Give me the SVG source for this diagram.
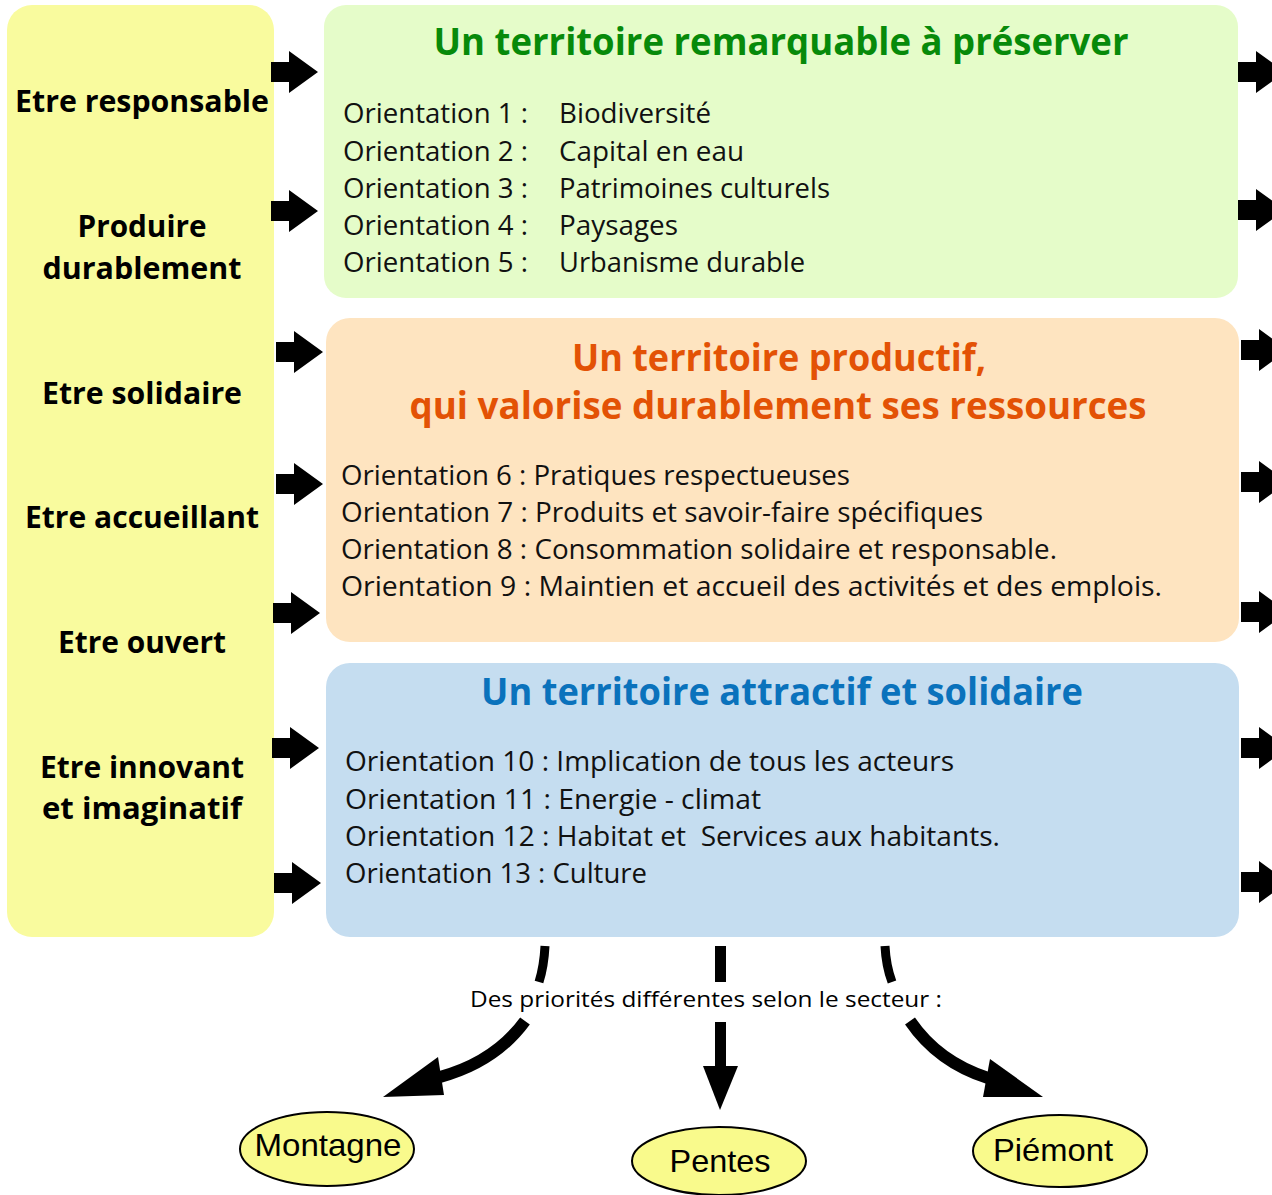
<svg xmlns="http://www.w3.org/2000/svg" width="1272" height="1195" viewBox="0 0 1272 1195">
<defs>
<style>
.bold{font-family:"Open Sans","DejaVu Sans",sans-serif;font-weight:bold;}
.side{font-size:30px;fill:#000;text-anchor:middle;}
.title{font-size:37px;text-anchor:middle;}
.ori{font-family:"Open Sans","DejaVu Sans",sans-serif;font-size:27px;fill:#111;}
.lbl{font-family:"Liberation Sans",Arial,sans-serif;font-size:32px;fill:#000;text-anchor:middle;}
.arr{fill:#000;}
.ell{fill:#F9FA8C;stroke:#000;stroke-width:2;}
.cur{fill:none;stroke:#000;}
</style>
<path id="ar" d="M0,-10 H18 V-21 L47,0 L18,21 V10 H0 Z"/>
</defs>
<rect width="1272" height="1195" fill="#fff"/>

<g id="valeurs">
<rect x="7" y="5" width="267" height="932" rx="25" fill="#F9FB9E"/>
<text class="bold side" x="142" y="112" textLength="254" lengthAdjust="spacingAndGlyphs">Etre responsable</text>
<text class="bold side" x="142" y="237" textLength="129" lengthAdjust="spacingAndGlyphs">Produire</text>
<text class="bold side" x="142" y="279" textLength="199" lengthAdjust="spacingAndGlyphs">durablement</text>
<text class="bold side" x="142" y="404" textLength="200" lengthAdjust="spacingAndGlyphs">Etre solidaire</text>
<text class="bold side" x="142" y="528" textLength="234" lengthAdjust="spacingAndGlyphs">Etre accueillant</text>
<text class="bold side" x="142" y="653" textLength="168" lengthAdjust="spacingAndGlyphs">Etre ouvert</text>
<text class="bold side" x="142" y="778" textLength="204" lengthAdjust="spacingAndGlyphs">Etre innovant</text>
<text class="bold side" x="142" y="819" textLength="200" lengthAdjust="spacingAndGlyphs">et imaginatif</text>
</g>

<g id="remarquable">
<rect x="324" y="5" width="914" height="293" rx="22" fill="#E5FCC9"/>
<text class="bold title" x="781" y="55" fill="#078A0A" textLength="695" lengthAdjust="spacingAndGlyphs">Un territoire remarquable à préserver</text>
<g class="ori">
<text x="343" y="123" textLength="185" lengthAdjust="spacingAndGlyphs">Orientation 1 :</text>
<text x="343" y="161" textLength="185" lengthAdjust="spacingAndGlyphs">Orientation 2 :</text>
<text x="343" y="198" textLength="185" lengthAdjust="spacingAndGlyphs">Orientation 3 :</text>
<text x="343" y="235" textLength="185" lengthAdjust="spacingAndGlyphs">Orientation 4 :</text>
<text x="343" y="272" textLength="185" lengthAdjust="spacingAndGlyphs">Orientation 5 :</text>
<text x="559" y="123" textLength="152" lengthAdjust="spacingAndGlyphs">Biodiversité</text>
<text x="559" y="161" textLength="185" lengthAdjust="spacingAndGlyphs">Capital en eau</text>
<text x="559" y="198" textLength="271" lengthAdjust="spacingAndGlyphs">Patrimoines culturels</text>
<text x="559" y="235" textLength="119" lengthAdjust="spacingAndGlyphs">Paysages</text>
<text x="559" y="272" textLength="246" lengthAdjust="spacingAndGlyphs">Urbanisme durable</text>
</g>
</g>

<g id="productif">
<rect x="326" y="318" width="913" height="324" rx="24" fill="#FEE4C0"/>
<text class="bold title" x="779" y="371" fill="#E35205" textLength="414" lengthAdjust="spacingAndGlyphs">Un territoire productif,</text>
<text class="bold title" x="778" y="419" fill="#E35205" textLength="737" lengthAdjust="spacingAndGlyphs">qui valorise durablement ses ressources</text>
<g class="ori">
<text x="341" y="485" textLength="509" lengthAdjust="spacingAndGlyphs">Orientation 6 : Pratiques respectueuses</text>
<text x="341" y="522" textLength="642" lengthAdjust="spacingAndGlyphs">Orientation 7 : Produits et savoir-faire spécifiques</text>
<text x="341" y="559" textLength="716" lengthAdjust="spacingAndGlyphs">Orientation 8 : Consommation solidaire et responsable.</text>
<text x="341" y="596" textLength="821" lengthAdjust="spacingAndGlyphs">Orientation 9 : Maintien et accueil des activités et des emplois.</text>
</g>
</g>

<g id="attractif">
<rect x="326" y="663" width="913" height="274" rx="24" fill="#C5DDF0"/>
<text class="bold title" x="782" y="705" fill="#0A72BC" textLength="602" lengthAdjust="spacingAndGlyphs">Un territoire attractif et solidaire</text>
<g class="ori">
<text x="345" y="771" textLength="609" lengthAdjust="spacingAndGlyphs">Orientation 10 : Implication de tous les acteurs</text>
<text x="345" y="809" textLength="416" lengthAdjust="spacingAndGlyphs">Orientation 11 : Energie - climat</text>
<text x="345" y="846" textLength="655" lengthAdjust="spacingAndGlyphs" xml:space="preserve">Orientation 12 : Habitat et  Services aux habitants.</text>
<text x="345" y="883" textLength="302" lengthAdjust="spacingAndGlyphs">Orientation 13 : Culture</text>
</g>
</g>

<g id="montagne">
<ellipse class="ell" cx="327" cy="1149" rx="87" ry="37"/>
<text class="lbl" x="328" y="1156" textLength="147" lengthAdjust="spacingAndGlyphs">Montagne</text>
</g>
<g id="pentes">
<ellipse class="ell" cx="719" cy="1161" rx="87" ry="34"/>
<text class="lbl" x="720" y="1172" textLength="101" lengthAdjust="spacingAndGlyphs">Pentes</text>
</g>
<g id="piemont">
<ellipse class="ell" cx="1060" cy="1151" rx="87" ry="36"/>
<text class="lbl" x="1053" y="1161" textLength="120" lengthAdjust="spacingAndGlyphs">Piémont</text>
</g>

<g id="connectors">
<use href="#ar" class="arr" x="271" y="72"/>
<use href="#ar" class="arr" x="271" y="211"/>
<use href="#ar" class="arr" x="276" y="352"/>
<use href="#ar" class="arr" x="276" y="484"/>
<use href="#ar" class="arr" x="273" y="613"/>
<use href="#ar" class="arr" x="272" y="748"/>
<use href="#ar" class="arr" x="274" y="883"/>
<use href="#ar" class="arr" x="1238" y="72"/>
<use href="#ar" class="arr" x="1238" y="210"/>
<use href="#ar" class="arr" x="1241" y="350"/>
<use href="#ar" class="arr" x="1241" y="482"/>
<use href="#ar" class="arr" x="1241" y="612"/>
<use href="#ar" class="arr" x="1241" y="748"/>
<use href="#ar" class="arr" x="1241" y="882"/>

<path class="cur" d="M545,946 Q544,966 539,982" stroke-width="9"/>
<path class="cur" d="M525,1021 Q495,1062 440,1077" stroke-width="12"/>
<polygon class="arr" points="383,1097 438,1057 444,1095"/>

<rect class="arr" x="715" y="946" width="11" height="36"/>
<rect class="arr" x="715" y="1022" width="11" height="46"/>
<polygon class="arr" points="703,1066 738,1066 720,1110"/>

<path class="cur" d="M885,946 Q886,966 892,982" stroke-width="9"/>
<path class="cur" d="M910,1021 Q938,1062 988,1078" stroke-width="12"/>
<polygon class="arr" points="990,1059 983,1097 1043,1097"/>
</g>
<text x="706" y="1007" font-family="'Open Sans','DejaVu Sans',sans-serif" font-size="22" fill="#000" text-anchor="middle" textLength="472" lengthAdjust="spacingAndGlyphs">Des priorités différentes selon le secteur :</text>
</svg>
